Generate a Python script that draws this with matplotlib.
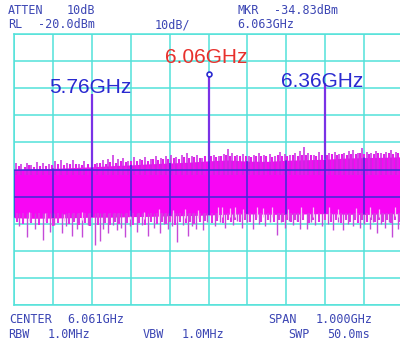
#!/usr/bin/env python3
"""Spectrum analyzer screen: three carriers at 5.76 / 6.06 / 6.36 GHz."""

import matplotlib

matplotlib.use("Agg")
import matplotlib.pyplot as plt
import numpy as np

# sweep settings (from the screen annotations)
CENTER_GHZ = 6.061
SPAN_GHZ = 1.0
REF_LEVEL = -20.0
DB_PER_DIV = 10.0

# carriers
PEAK_FREQ = [5.761, 6.063, 6.361]
PEAK_DBM = [-42.0, -34.83, -38.1]
PEAK_LABELS = ["5.76GHz", "6.06GHz", "6.36GHz"]
LABEL_FREQ = [5.758, 6.055, 6.352]
LABEL_DBM = [-41.8, -30.7, -39.6]
LABEL_COLORS = ["#2a2ad0", "#e8302c", "#2a2ad0"]

# noise floor envelope (dense part of the trace)
ENV_FREQ = [5.561, 5.611, 5.661, 5.711, 5.761, 5.811, 5.861, 5.911, 5.961, 6.011, 6.061,
            6.111, 6.161, 6.211, 6.261, 6.311, 6.361, 6.411, 6.461, 6.511, 6.561]
ENV_TOP = [-70.0, -69.8, -69.6, -69.3, -69.0, -68.6, -68.3, -67.9, -67.6, -67.3, -66.8,
           -66.5, -66.9, -67.0, -66.6, -66.4, -66.2, -65.8, -65.6, -65.5, -65.3]
ENV_BOT = [-87.8, -88.0, -87.9, -87.8, -87.6, -87.6, -87.4, -87.3, -87.1, -87.0, -86.8,
           -86.5, -86.4, -86.5, -86.6, -86.4, -86.3, -86.5, -86.6, -86.4, -86.3]

# upward noise spikes (tall ones)
UP_FREQ = [5.567, 5.580, 5.594, 5.605, 5.620, 5.636, 5.650, 5.667, 5.682, 5.696, 5.712,
           5.728, 5.742, 5.775, 5.790, 5.803, 5.815, 5.828, 5.842, 5.855, 5.870, 5.884,
           5.898, 5.912, 5.925, 5.938, 5.952, 5.965, 5.978, 5.992, 6.006, 6.018, 6.032,
           6.045, 6.075, 6.088, 6.100, 6.111, 6.122, 6.135, 6.150, 6.165, 6.178, 6.190,
           6.203, 6.218, 6.232, 6.245, 6.258, 6.270, 6.284, 6.296, 6.306, 6.318, 6.332,
           6.345, 6.372, 6.385, 6.397, 6.410, 6.422, 6.432, 6.445, 6.456, 6.468, 6.480,
           6.492, 6.505, 6.518, 6.530, 6.542, 6.555]
UP_DBM = [-67.5, -68.0, -67.6, -68.3, -67.2, -67.5, -68.0, -66.8, -66.5, -67.5, -66.5,
          -67.8, -67.0, -67.5, -66.5, -66.0, -64.6, -66.3, -65.8, -66.8, -65.5, -66.2,
          -65.3, -66.0, -65.0, -65.8, -65.2, -64.8, -65.5, -64.5, -63.9, -65.0, -64.8,
          -65.6, -64.5, -65.0, -64.2, -62.4, -64.0, -64.8, -64.3, -65.0, -64.5, -63.8,
          -64.7, -64.2, -65.0, -63.5, -64.2, -64.8, -64.0, -63.2, -61.7, -63.8, -64.5,
          -63.5, -64.0, -63.5, -64.2, -63.8, -63.2, -62.8, -63.8, -62.0, -63.6, -64.0,
          -63.2, -63.8, -63.5, -62.8, -63.5, -63.0]

# short "grass" on top of the band
GRASS_UP_FREQ = [5.573, 5.588, 5.600, 5.612, 5.628, 5.643, 5.658, 5.675, 5.690, 5.704, 5.720,
                 5.735, 5.750, 5.768, 5.783, 5.797, 5.809, 5.822, 5.835, 5.848, 5.862, 5.877,
                 5.891, 5.905, 5.918, 5.932, 5.945, 5.958, 5.972, 5.985, 5.999, 6.012, 6.025,
                 6.038, 6.052, 6.068, 6.081, 6.094, 6.106, 6.117, 6.129, 6.142, 6.157, 6.171,
                 6.184, 6.197, 6.210, 6.225, 6.239, 6.251, 6.264, 6.277, 6.290, 6.301, 6.312,
                 6.325, 6.338, 6.352, 6.366, 6.378, 6.391, 6.404, 6.416, 6.427, 6.439, 6.451,
                 6.462, 6.474, 6.486, 6.498, 6.511, 6.524, 6.536, 6.549, 6.560]
GRASS_UP_DBM = [-68.8, -69.0, -68.5, -69.0, -68.6, -68.8, -68.2, -68.0, -68.4, -68.1, -67.9,
                -68.3, -67.8, -68.0, -67.6, -67.8, -67.2, -67.5, -67.0, -67.3, -66.8, -67.0,
                -66.5, -66.8, -66.2, -66.5, -66.0, -66.3, -65.8, -66.0, -65.5, -65.7, -65.4,
                -65.6, -65.2, -65.0, -65.3, -64.9, -64.8, -65.1, -64.9, -65.2, -65.0, -65.3,
                -64.9, -65.2, -65.0, -65.3, -64.8, -65.0, -65.2, -64.7, -64.9, -64.5, -64.8,
                -64.6, -64.9, -64.5, -64.7, -64.3, -64.6, -64.2, -64.5, -64.1, -64.4, -64.0,
                -64.3, -64.1, -64.4, -64.0, -64.2, -64.0, -64.3, -64.0, -64.2]

# downward noise spikes (deep ones)
DOWN_FREQ = [5.575, 5.594, 5.615, 5.636, 5.654, 5.665, 5.684, 5.695, 5.710, 5.722, 5.736,
             5.750, 5.769, 5.782, 5.790, 5.803, 5.815, 5.826, 5.836, 5.846, 5.860, 5.877,
             5.890, 5.905, 5.920, 5.936, 5.946, 5.957, 5.968, 5.980, 5.995, 6.008, 6.018,
             6.029, 6.047, 6.058, 6.078, 6.090, 6.103, 6.124, 6.135, 6.147, 6.160, 6.175,
             6.190, 6.206, 6.220, 6.237, 6.248, 6.258, 6.268, 6.278, 6.288, 6.296, 6.314,
             6.325, 6.335, 6.353, 6.368, 6.381, 6.395, 6.407, 6.420, 6.432, 6.450, 6.462,
             6.476, 6.485, 6.494, 6.505, 6.515, 6.525, 6.533, 6.548, 6.555]
DOWN_DBM = [-91.0, -94.9, -92.0, -96.0, -93.0, -90.5, -93.5, -91.0, -94.5, -92.0, -95.0,
            -90.5, -98.0, -96.5, -92.0, -93.5, -90.5, -92.5, -91.5, -95.0, -91.0, -93.0,
            -90.5, -94.5, -91.5, -93.5, -90.0, -92.0, -91.0, -96.7, -90.5, -94.5, -91.0,
            -92.0, -92.3, -89.5, -91.0, -89.5, -91.5, -90.5, -89.0, -91.5, -89.5, -92.0,
            -90.0, -91.0, -89.5, -94.0, -89.5, -91.5, -89.0, -90.5, -89.0, -92.0, -92.0,
            -89.5, -90.5, -91.0, -90.0, -92.5, -89.5, -92.5, -90.0, -91.0, -91.5, -90.0,
            -92.0, -89.5, -93.5, -90.0, -91.5, -89.5, -95.0, -92.0, -90.0]

# short "grass" under the band
GRASS_DOWN_FREQ = [5.568, 5.583, 5.605, 5.625, 5.645, 5.660, 5.675, 5.702, 5.716, 5.729, 5.743,
                   5.756, 5.776, 5.796, 5.809, 5.820, 5.831, 5.852, 5.866, 5.883, 5.898, 5.912,
                   5.928, 5.941, 5.951, 5.962, 5.974, 5.987, 6.002, 6.013, 6.023, 6.040, 6.052,
                   6.070, 6.084, 6.097, 6.110, 6.118, 6.130, 6.141, 6.154, 6.167, 6.182, 6.197,
                   6.213, 6.229, 6.243, 6.253, 6.263, 6.273, 6.283, 6.292, 6.305, 6.319, 6.330,
                   6.345, 6.360, 6.375, 6.388, 6.401, 6.414, 6.426, 6.438, 6.446, 6.456, 6.468,
                   6.480, 6.490, 6.500, 6.510, 6.520, 6.530, 6.540, 6.552, 6.559]
GRASS_DOWN_DBM = [-89.5, -90.0, -89.8, -90.3, -89.6, -90.8, -89.8, -90.2, -89.5, -90.5, -89.7,
                  -91.0, -90.4, -89.8, -90.6, -89.5, -90.2, -89.8, -90.5, -89.6, -90.3, -89.4,
                  -90.1, -89.2, -90.2, -89.5, -90.4, -89.4, -89.9, -89.2, -90.1, -89.5, -89.0,
                  -89.8, -89.0, -89.6, -88.8, -89.5, -88.6, -89.3, -88.6, -89.4, -88.7, -89.5,
                  -88.6, -89.3, -88.5, -89.2, -88.6, -89.4, -88.6, -89.3, -88.8, -89.6, -88.6,
                  -89.4, -88.7, -89.5, -88.8, -89.6, -88.6, -89.4, -88.7, -89.6, -88.8, -89.5,
                  -88.7, -89.4, -88.6, -89.3, -88.7, -89.6, -88.8, -89.4, -88.8]

# light gaps reaching up into the bottom of the noise band
NOTCH_FREQ = [5.600, 5.640, 5.690, 5.735, 5.860, 5.895, 5.935, 5.970, 6.000, 6.035, 6.085,
              6.095, 6.115, 6.128, 6.150, 6.185, 6.200, 6.225, 6.265, 6.300, 6.330, 6.370,
              6.395, 6.440, 6.475, 6.500, 6.540]
NOTCH_DBM = [-85.5, -86.0, -86.5, -85.5, -85.0, -85.5, -84.5, -85.0, -84.5, -85.0, -83.8,
             -84.0, -84.2, -83.8, -84.5, -84.0, -84.3, -84.0, -84.5, -84.0, -83.8, -84.0,
             -84.5, -84.2, -84.0, -84.5, -84.0]

# (text, x px, baseline y px)
SCREEN_TEXT = [
    ("ATTEN", 8, 14), ("10dB", 67, 14),
    ("RL", 8, 28), ("-20.0dBm", 38, 28), ("10dB/", 155, 28),
    ("MKR", 237, 14), ("-34.83dBm", 274, 14), ("6.063GHz", 237, 28),
    ("CENTER", 9, 323), ("6.061GHz", 67, 323), ("SPAN", 268, 323), ("1.000GHz", 316, 323),
    ("RBW", 8, 338), ("1.0MHz", 48, 338), ("VBW", 143, 338), ("1.0MHz", 182, 338),
    ("SWP", 288, 338), ("50.0ms", 327, 338),
]

W, H = 400, 343
GRID = "#52e2da"
BAND = "#f806f4"


def main() -> None:
    fig = plt.figure(figsize=(W / 100, H / 100), dpi=100)
    ax = fig.add_axes([14 / W, 38 / H, 389 / W, 271 / H])

    f0 = CENTER_GHZ - SPAN_GHZ / 2
    ax.set_xlim(f0, f0 + SPAN_GHZ)
    ax.set_ylim(REF_LEVEL - 10 * DB_PER_DIV, REF_LEVEL)
    ax.set_xticks(f0 + np.arange(11) * SPAN_GHZ / 10)
    ax.set_yticks(REF_LEVEL - np.arange(11) * DB_PER_DIV)
    ax.tick_params(length=0, labelbottom=False, labelleft=False)
    ax.grid(True, color=GRID, lw=1.1, zorder=0)
    ax.set_axisbelow(True)
    for sp in ax.spines.values():
        sp.set_color(GRID)
        sp.set_linewidth(1.1)

    # noise band
    band = ax.fill_between(ENV_FREQ, ENV_BOT, ENV_TOP, color=BAND, lw=0, zorder=2)
    ax.vlines(GRASS_UP_FREQ, -72, GRASS_UP_DBM, color="#e41cec", lw=1.5, zorder=2)
    ax.vlines(UP_FREQ, -72, UP_DBM, color="#c82ae0", lw=1.1, zorder=2)
    ax.vlines(GRASS_DOWN_FREQ, GRASS_DOWN_DBM, -86, color="#e62cea", lw=1.5, zorder=2)
    ax.vlines(DOWN_FREQ, DOWN_DBM, -86, color="#c44ad8", lw=1.0, zorder=2)
    notch_base = np.interp(NOTCH_FREQ, ENV_FREQ, ENV_BOT)
    ax.vlines(NOTCH_FREQ, notch_base - 1.0, NOTCH_DBM, color="#f6c4f4", lw=0.9, zorder=3)

    # grid shows dark blue where it crosses the trace
    clip = band.get_paths()[0]
    for xv in ax.get_xticks():
        ln = ax.axvline(xv, color="#3a2ad8", lw=1.1, zorder=4)
        ln.set_clip_path(clip, ax.transData)
    for yv in ax.get_yticks():
        ln = ax.axhline(yv, color="#3a2ad8", lw=1.1, zorder=4)
        ln.set_clip_path(clip, ax.transData)

    # carriers
    base = np.interp(PEAK_FREQ, ENV_FREQ, ENV_TOP)
    ax.vlines(PEAK_FREQ, base, PEAK_DBM, color="#7a32e6", lw=1.6, zorder=5)
    ax.plot(PEAK_FREQ[1], PEAK_DBM[1], "o", ms=3.5, mfc="white", mec="#2a2ad0", mew=1.2, zorder=6)
    for txt, fx, fy, col in zip(PEAK_LABELS, LABEL_FREQ, LABEL_DBM, LABEL_COLORS):
        ax.text(fx, fy, txt, color=col, fontsize=15, family="Liberation Sans",
                ha="center", va="baseline", zorder=7)

    for txt, px, py in SCREEN_TEXT:
        fig.text(px / W, 1 - py / H, txt, color="#3c46b4", fontsize=8.5,
                 family="DejaVu Sans Mono", ha="left", va="baseline")

    fig.savefig("out.png", dpi=100)
    plt.close(fig)


if __name__ == "__main__":
    main()
